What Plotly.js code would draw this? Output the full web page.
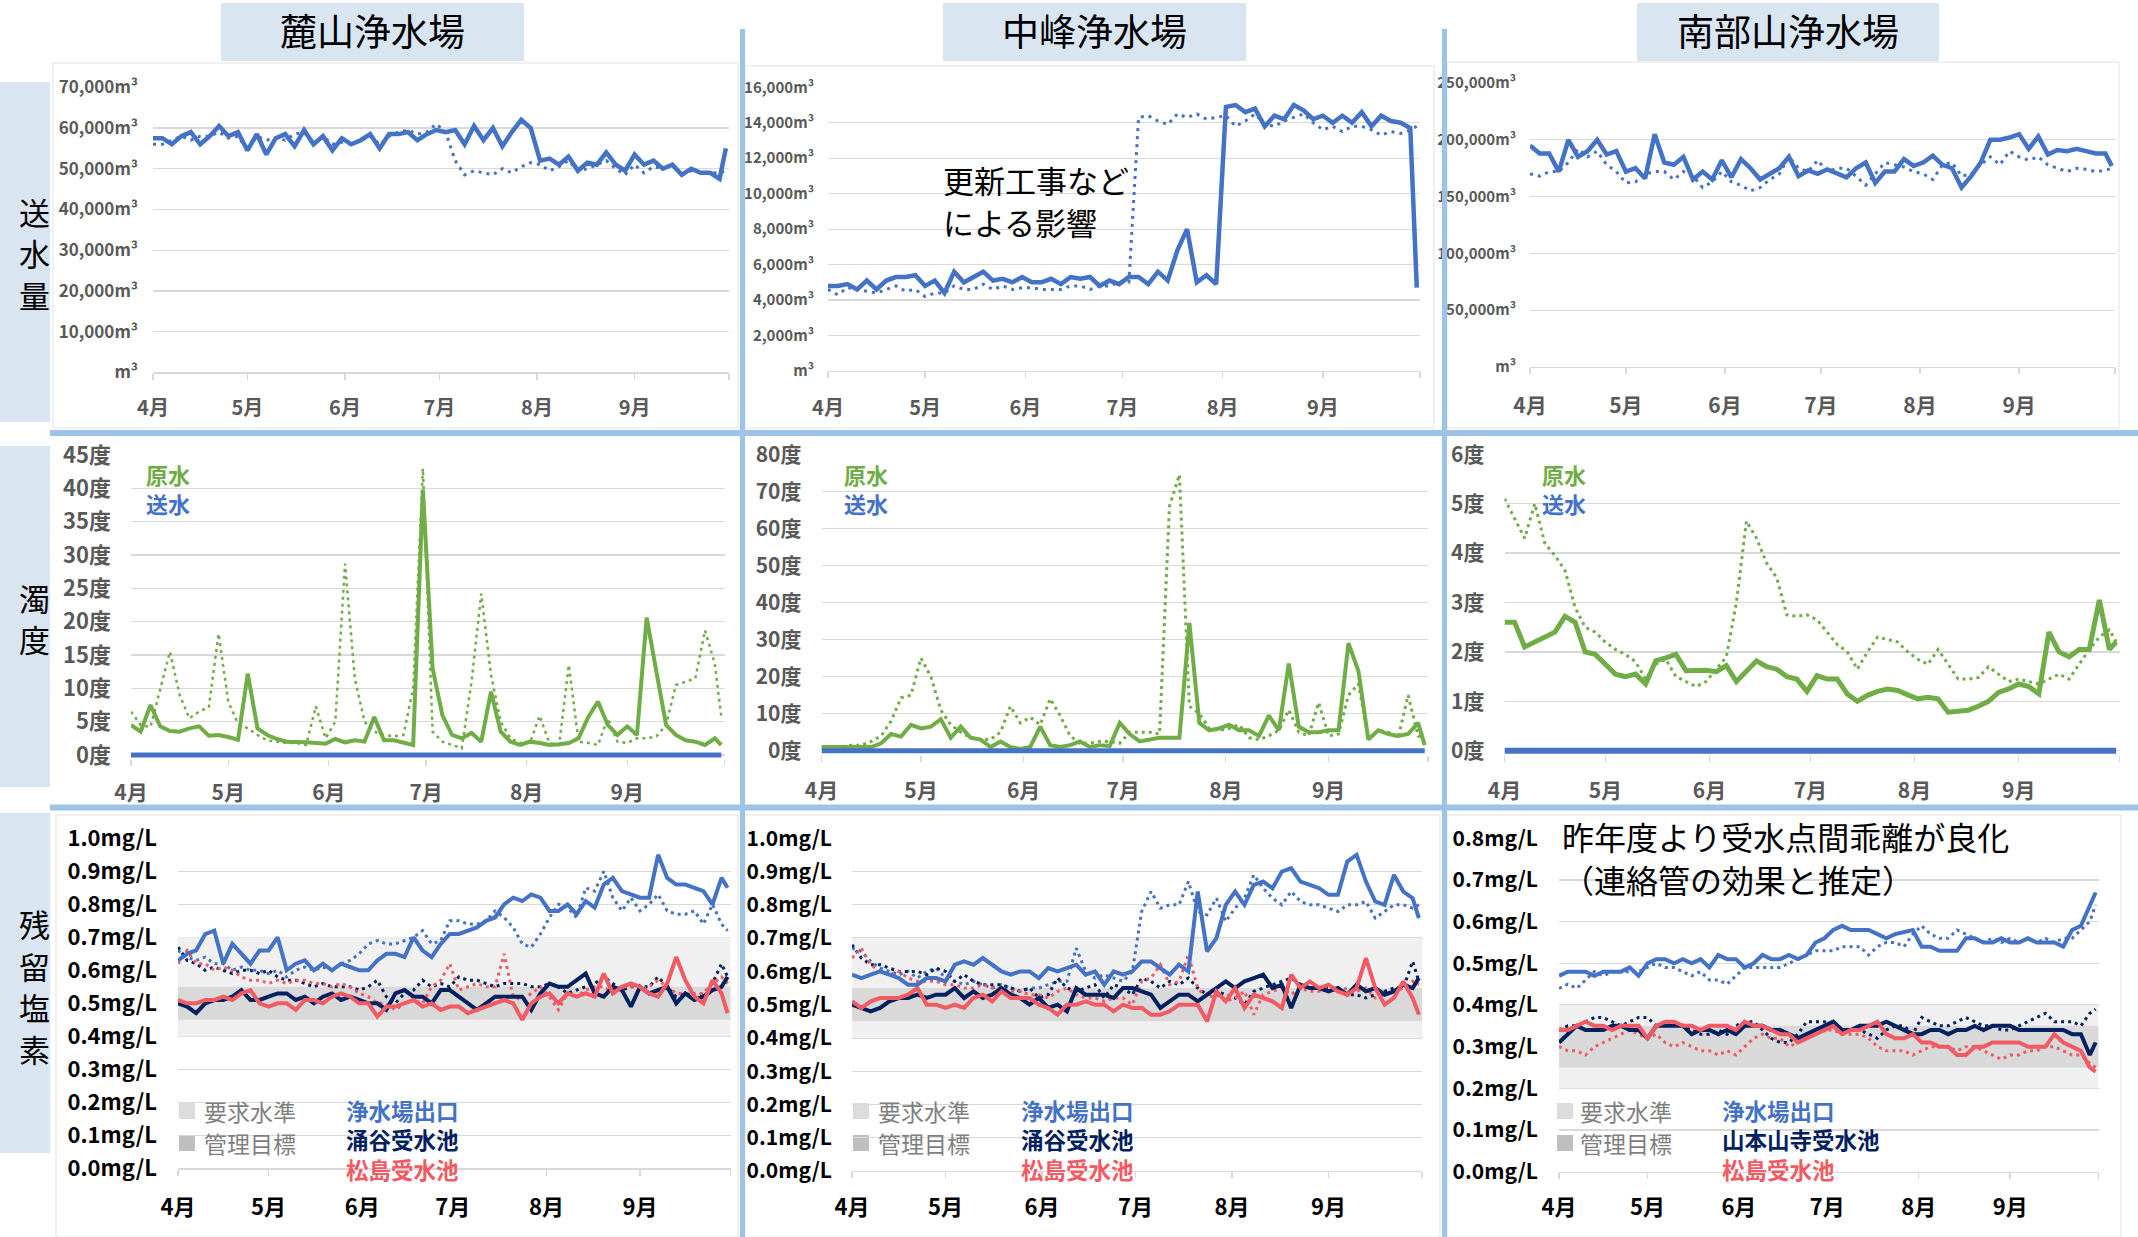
<!DOCTYPE html>
<html>
<head>
<meta charset="utf-8">
<script src="https://cdn.plot.ly/plotly-3.0.1.min.js"></script>
<style>
html,body{margin:0;padding:0;background:#ffffff;overflow:hidden;}
#chart{width:2138px;height:1237px;}
</style>
</head>
<body>
<div id="chart"></div>
<script>
// ================= DATA =================
const dates = [
"2023-04-01","2023-04-04","2023-04-07","2023-04-10","2023-04-13","2023-04-16","2023-04-19","2023-04-22","2023-04-25","2023-04-28",
"2023-05-01","2023-05-04","2023-05-07","2023-05-10","2023-05-13","2023-05-16","2023-05-19","2023-05-22","2023-05-25","2023-05-28",
"2023-05-31","2023-06-03","2023-06-06","2023-06-09","2023-06-12","2023-06-15","2023-06-18","2023-06-21","2023-06-24","2023-06-27",
"2023-06-30","2023-07-03","2023-07-06","2023-07-09","2023-07-12","2023-07-15","2023-07-18","2023-07-21","2023-07-24","2023-07-27",
"2023-07-30","2023-08-02","2023-08-05","2023-08-08","2023-08-11","2023-08-14","2023-08-17","2023-08-20","2023-08-23","2023-08-26",
"2023-08-29","2023-09-01","2023-09-04","2023-09-07","2023-09-10","2023-09-13","2023-09-16","2023-09-19","2023-09-22","2023-09-25",
"2023-09-28","2023-09-30"];
const monthTickVals = ["2023-04-01","2023-05-01","2023-06-01","2023-07-01","2023-08-01","2023-09-01","2023-10-01"];
const monthTickText = ["4月","5月","6月","7月","8月","9月",""];
const xRange = ["2023-04-01","2023-10-01"];

const plantNames = ["麓山浄水場","中峰浄水場","南部山浄水場"];
const rowNames = ["送水量","濁度","残留塩素"];

// ---- 送水量 (m³) : cur = 今年度(実線), prev = 昨年度(点線)
const flowFumotoCur = [
57500,57500,56000,58000,59000,56000,58000,60500,58000,59000,
54500,58500,53500,57500,58500,55500,59500,56000,58000,54500,
57500,56000,57000,58500,55000,58500,58500,59000,57000,58500,
59500,59000,59500,56000,60500,57000,60000,55500,59000,62000,
60000,52000,52500,51000,53000,49500,51500,51000,54000,51000,
49500,53500,51000,52000,50000,51000,48500,50000,49000,49000,
47500,55000];
const flowFumotoPrev = [
56000,56000,57000,58000,57000,58000,58000,59000,57500,58000,
54500,58000,57000,57500,57000,58500,59000,56000,58000,56000,
56500,56000,57000,58000,56000,58000,59000,59500,58500,59000,
61000,59000,52000,48500,49500,49000,48500,50000,49000,50500,
51500,51000,49500,50500,52000,49500,50000,51000,52000,50000,
48500,51000,49000,50500,50000,51000,48500,49500,49000,49000,
49000,49500];
const flowNakaCur = [
4800,4800,4900,4600,5100,4600,5100,5300,5300,5400,
4800,5100,4400,5600,5000,5300,5600,5100,5200,5000,
5300,5000,5000,5200,4900,5300,5200,5300,4800,5100,
4900,5300,5300,4900,5600,5100,6800,8000,5000,5400,
4900,14900,15000,14600,14800,13800,14400,14200,15000,14700,
14200,14400,14000,14400,14000,14600,13800,14400,14100,14000,
13700,4700];
const flowNakaPrev = [
4600,4300,4700,4600,4500,4400,4600,4800,4500,4600,
4200,4400,4400,4800,4600,4600,4900,4600,4800,4600,
4700,4700,4600,4600,4600,4800,4800,4600,4800,4800,
5000,5000,14300,14400,14100,13900,14500,14300,14500,14200,
14300,14400,13800,14100,14500,13900,13800,14100,14300,14500,
14000,13600,13800,13500,13800,13800,13600,13300,13500,13400,
13600,13800];
const flowNanbuCur = [
195000,188000,188000,172000,200000,185000,190000,200000,187000,190000,
172000,175000,166000,205000,180000,178000,185000,165000,172000,165000,
182000,167000,183000,175000,165000,170000,175000,185000,168000,173000,
170000,174000,170000,167000,175000,180000,162000,172000,172000,183000,
177000,180000,186000,178000,175000,158000,168000,180000,200000,200000,
202000,205000,192000,203000,187000,191000,190000,192000,190000,188000,
188000,177000];
const flowNanbuPrev = [
170000,168000,172000,172000,180000,192000,185000,190000,178000,172000,
162000,163000,170000,172000,172000,165000,172000,168000,158000,163000,
172000,163000,160000,155000,158000,165000,170000,185000,175000,172000,
182000,172000,175000,175000,168000,160000,170000,180000,178000,176000,
172000,170000,165000,178000,180000,168000,170000,178000,185000,178000,
190000,185000,182000,185000,178000,175000,172000,175000,174000,172000,
173000,175000];

// ---- 濁度 (度) : 原水 cur / prev, 送水
const turbFumotoCur = [
4.5,3.5,7.5,4.3,3.6,3.5,4.0,4.3,2.9,3.0,
2.7,2.3,12.2,4.0,3.0,2.4,2.0,2.0,1.9,1.8,
1.7,2.4,1.9,2.2,2.0,5.7,2.2,2.2,1.8,1.5,
39.8,13.0,6.0,3.0,2.5,3.3,2.0,9.5,3.5,2.0,
1.5,2.0,1.8,1.5,1.6,1.8,2.5,5.7,8.0,4.5,
3.0,4.3,3.0,20.6,12.5,4.5,3.0,2.2,2.0,1.5,
2.5,1.5];
const turbFumotoPrev = [
6.5,4.5,4.2,10.0,15.5,9.0,5.5,6.5,7.2,18.2,
8.0,4.7,4.0,3.0,2.2,2.0,1.8,1.8,1.5,7.3,
2.5,5.0,28.7,11.5,5.0,3.5,3.0,2.8,3.0,10.0,
43.0,3.5,2.0,1.5,1.0,11.0,24.2,12.0,5.0,2.5,
1.8,1.8,5.9,1.8,1.5,13.5,2.0,1.8,1.5,5.5,
2.0,1.8,2.5,2.5,2.8,4.5,10.5,11.0,11.5,18.7,
13.7,5.8];
const turbNakaCur = [
1.0,1.0,1.0,1.0,1.0,1.0,2.0,4.5,3.8,7.0,
6.0,6.5,8.5,3.5,6.5,3.5,3.0,1.0,2.5,1.0,
0.5,1.0,6.5,1.5,1.0,1.5,2.5,1.0,1.5,1.3,
7.5,4.5,2.5,3.0,3.5,3.5,3.5,34.5,7.5,5.5,
6.0,7.0,5.5,5.5,4.0,9.5,5.5,23.5,6.5,5.0,
5.0,5.5,5.5,29.0,21.5,3.0,5.5,4.5,4.0,4.5,
7.5,1.5];
const turbNakaPrev = [
1.0,1.0,1.0,1.5,1.5,2.5,4.0,8.0,14.3,15.0,
25.0,20.0,11.0,7.0,5.0,3.5,3.0,3.0,5.0,12.0,
7.5,9.0,7.0,14.0,9.5,4.0,2.0,2.0,2.5,2.5,
2.0,5.0,5.0,5.0,4.5,66.0,74.5,12.0,10.0,6.0,
5.5,6.0,7.0,3.5,3.0,4.0,5.5,11.0,5.0,4.0,
13.0,4.0,4.5,15.0,18.0,3.5,5.5,5.0,3.5,15.0,
4.0,3.5];
const turbNanbuCur = [
2.6,2.6,2.1,2.2,2.3,2.4,2.72,2.6,2.0,1.95,
1.75,1.55,1.5,1.55,1.35,1.82,1.88,1.95,1.62,1.62,
1.63,1.6,1.72,1.4,1.6,1.82,1.7,1.65,1.5,1.45,
1.2,1.52,1.45,1.45,1.15,1.0,1.12,1.2,1.25,1.22,
1.13,1.05,1.08,1.05,0.78,0.8,0.82,0.9,1.0,1.18,
1.25,1.35,1.3,1.15,2.4,2.0,1.9,2.05,2.05,3.05,
2.05,2.2];
const turbNanbuPrev = [
5.1,4.7,4.3,5.0,4.2,3.95,3.65,2.9,2.5,2.4,
2.2,2.05,1.95,1.8,1.45,1.75,1.85,1.5,1.4,1.3,
1.4,1.65,1.9,3.0,4.65,4.3,3.8,3.5,2.75,2.72,
2.75,2.65,2.4,2.15,2.0,1.65,2.0,2.3,2.25,2.2,
2.0,1.85,1.75,2.05,1.75,1.45,1.45,1.48,1.7,1.55,
1.4,1.45,1.4,1.35,1.45,1.55,1.45,1.75,2.05,2.3,
2.45,2.2];
const sentTurbDates = ["2023-04-01","2023-09-30"];
const sentTurbFumoto = [0,0];
const sentTurbNaka = [0,0];
const sentTurbNanbu = [0,0];

// ---- 残留塩素 (mg/L) : 浄水場出口 / 受水池A / 松島受水池, cur & prev
const clFumotoOutCur = [
0.63,0.65,0.66,0.71,0.72,0.62,0.68,0.65,0.62,0.66,
0.66,0.70,0.60,0.62,0.63,0.60,0.62,0.60,0.62,0.61,
0.60,0.60,0.63,0.65,0.65,0.64,0.70,0.66,0.64,0.68,
0.71,0.71,0.72,0.73,0.75,0.76,0.80,0.82,0.81,0.83,
0.82,0.78,0.78,0.80,0.77,0.81,0.79,0.86,0.88,0.84,
0.83,0.82,0.82,0.95,0.88,0.86,0.86,0.85,0.84,0.80,
0.88,0.85];
const clFumotoOutPrev = [
0.66,0.64,0.63,0.64,0.62,0.62,0.60,0.61,0.60,0.60,
0.59,0.60,0.58,0.60,0.61,0.60,0.61,0.60,0.62,0.63,
0.65,0.68,0.69,0.68,0.68,0.69,0.70,0.72,0.68,0.69,
0.75,0.75,0.74,0.74,0.75,0.78,0.76,0.73,0.68,0.67,
0.71,0.76,0.80,0.79,0.76,0.85,0.84,0.90,0.82,0.78,
0.82,0.78,0.80,0.83,0.78,0.77,0.77,0.78,0.74,0.80,
0.74,0.72];
const clFumotoWakuyaCur = [
0.50,0.49,0.47,0.50,0.51,0.51,0.52,0.54,0.51,0.51,
0.52,0.53,0.53,0.51,0.52,0.50,0.52,0.53,0.51,0.52,
0.51,0.50,0.50,0.48,0.53,0.54,0.52,0.52,0.50,0.54,
0.54,0.52,0.50,0.48,0.50,0.52,0.52,0.52,0.52,0.48,
0.53,0.56,0.55,0.55,0.57,0.59,0.53,0.52,0.55,0.54,
0.49,0.55,0.53,0.54,0.55,0.50,0.53,0.51,0.52,0.54,
0.55,0.58];
const clFumotoWakuyaPrev = [
0.67,0.63,0.62,0.60,0.61,0.60,0.59,0.60,0.60,0.59,
0.60,0.58,0.57,0.57,0.56,0.55,0.56,0.55,0.55,0.55,
0.54,0.55,0.57,0.52,0.50,0.53,0.54,0.57,0.55,0.56,
0.55,0.58,0.57,0.57,0.56,0.55,0.56,0.56,0.56,0.55,
0.55,0.56,0.55,0.53,0.54,0.55,0.56,0.58,0.56,0.54,
0.55,0.55,0.55,0.58,0.55,0.52,0.53,0.52,0.53,0.56,
0.62,0.58];
const clFumotoMatsuCur = [
0.51,0.50,0.50,0.51,0.51,0.52,0.51,0.53,0.54,0.50,
0.49,0.50,0.50,0.48,0.51,0.51,0.50,0.52,0.53,0.52,
0.50,0.50,0.46,0.49,0.49,0.50,0.51,0.49,0.50,0.48,
0.49,0.49,0.47,0.48,0.49,0.50,0.51,0.50,0.45,0.50,
0.52,0.53,0.50,0.53,0.52,0.53,0.52,0.59,0.53,0.55,
0.56,0.55,0.53,0.52,0.56,0.64,0.57,0.52,0.50,0.57,
0.53,0.47];
const clFumotoMatsuPrev = [
0.62,0.66,0.62,0.62,0.60,0.61,0.60,0.58,0.57,0.57,
0.56,0.57,0.56,0.57,0.57,0.56,0.56,0.55,0.56,0.55,
0.53,0.52,0.50,0.50,0.48,0.50,0.51,0.50,0.55,0.57,
0.62,0.54,0.55,0.56,0.55,0.55,0.65,0.52,0.51,0.53,
0.55,0.52,0.48,0.53,0.52,0.54,0.55,0.55,0.53,0.55,
0.55,0.54,0.55,0.57,0.55,0.53,0.53,0.53,0.53,0.56,
0.58,0.56];

const clNakaOutCur = [
0.59,0.58,0.59,0.60,0.59,0.58,0.56,0.56,0.58,0.58,
0.57,0.62,0.63,0.62,0.64,0.62,0.60,0.59,0.60,0.60,
0.58,0.61,0.60,0.61,0.62,0.59,0.60,0.56,0.60,0.59,
0.60,0.63,0.63,0.61,0.59,0.62,0.60,0.84,0.66,0.70,
0.80,0.84,0.80,0.86,0.87,0.85,0.90,0.91,0.87,0.86,
0.85,0.83,0.83,0.93,0.95,0.87,0.81,0.80,0.89,0.84,
0.82,0.76];
const clNakaOutPrev = [
0.67,0.66,0.63,0.61,0.60,0.59,0.60,0.58,0.60,0.61,
0.58,0.57,0.56,0.57,0.56,0.55,0.56,0.55,0.54,0.55,
0.55,0.56,0.57,0.57,0.67,0.60,0.58,0.59,0.58,0.57,
0.60,0.78,0.84,0.79,0.80,0.80,0.87,0.78,0.77,0.82,
0.75,0.79,0.82,0.89,0.85,0.82,0.80,0.84,0.81,0.80,
0.80,0.79,0.78,0.80,0.80,0.81,0.76,0.78,0.80,0.80,
0.79,0.80];
const clNakaWakuyaCur = [
0.50,0.49,0.48,0.49,0.51,0.52,0.52,0.53,0.52,0.53,
0.53,0.55,0.52,0.54,0.52,0.53,0.55,0.53,0.52,0.50,
0.52,0.49,0.50,0.48,0.55,0.53,0.53,0.53,0.52,0.55,
0.55,0.54,0.53,0.49,0.51,0.53,0.53,0.51,0.53,0.55,
0.57,0.55,0.57,0.58,0.59,0.55,0.56,0.49,0.56,0.55,
0.55,0.54,0.55,0.53,0.56,0.54,0.55,0.53,0.54,0.56,
0.55,0.58];
const clNakaWakuyaPrev = [
0.68,0.64,0.62,0.62,0.61,0.60,0.60,0.60,0.59,0.61,
0.60,0.57,0.59,0.57,0.56,0.56,0.56,0.55,0.54,0.55,
0.52,0.53,0.58,0.55,0.54,0.55,0.56,0.52,0.56,0.55,
0.53,0.58,0.57,0.55,0.57,0.56,0.58,0.55,0.53,0.54,
0.53,0.52,0.50,0.54,0.55,0.56,0.57,0.58,0.56,0.55,
0.55,0.55,0.55,0.53,0.53,0.52,0.53,0.54,0.55,0.55,
0.63,0.57];
const clNakaMatsuCur = [
0.51,0.49,0.51,0.52,0.52,0.52,0.53,0.55,0.50,0.50,
0.49,0.50,0.49,0.52,0.53,0.51,0.54,0.52,0.52,0.52,
0.50,0.49,0.47,0.50,0.50,0.51,0.50,0.50,0.48,0.50,
0.49,0.49,0.47,0.47,0.48,0.50,0.50,0.50,0.45,0.54,
0.51,0.55,0.49,0.53,0.52,0.51,0.49,0.59,0.55,0.57,
0.55,0.56,0.54,0.53,0.55,0.64,0.55,0.50,0.52,0.57,
0.52,0.47];
const clNakaMatsuPrev = [
0.64,0.67,0.62,0.60,0.59,0.60,0.58,0.57,0.57,0.57,
0.56,0.56,0.55,0.55,0.56,0.55,0.55,0.54,0.54,0.53,
0.53,0.52,0.54,0.55,0.53,0.52,0.52,0.51,0.52,0.52,
0.50,0.57,0.58,0.62,0.56,0.57,0.65,0.55,0.52,0.53,
0.51,0.52,0.54,0.47,0.53,0.54,0.55,0.53,0.55,0.54,
0.54,0.55,0.54,0.55,0.54,0.55,0.52,0.53,0.54,0.55,
0.57,0.56];

const clNanbuOutCur = [
0.47,0.48,0.48,0.48,0.47,0.48,0.48,0.48,0.49,0.47,
0.50,0.51,0.51,0.50,0.51,0.50,0.51,0.49,0.52,0.51,
0.51,0.49,0.50,0.52,0.51,0.51,0.52,0.51,0.52,0.55,
0.56,0.58,0.59,0.58,0.58,0.58,0.57,0.56,0.57,0.575,
0.58,0.54,0.54,0.53,0.53,0.53,0.56,0.56,0.55,0.55,
0.56,0.55,0.55,0.56,0.55,0.55,0.55,0.54,0.58,0.59,
0.64,0.67];
const clNanbuOutPrev = [
0.44,0.45,0.44,0.46,0.48,0.47,0.48,0.48,0.48,0.48,
0.49,0.50,0.49,0.49,0.48,0.47,0.48,0.46,0.46,0.45,
0.47,0.49,0.49,0.49,0.49,0.49,0.50,0.51,0.52,0.53,
0.53,0.53,0.54,0.54,0.54,0.52,0.54,0.55,0.55,0.54,
0.57,0.59,0.57,0.56,0.56,0.58,0.57,0.56,0.55,0.56,
0.55,0.56,0.55,0.56,0.55,0.56,0.55,0.56,0.56,0.58,
0.60,0.64];
const clNanbuYamaCur = [
0.31,0.33,0.35,0.34,0.34,0.34,0.35,0.35,0.34,0.34,
0.32,0.35,0.35,0.35,0.35,0.33,0.34,0.34,0.33,0.34,
0.33,0.35,0.35,0.35,0.34,0.34,0.33,0.32,0.33,0.34,
0.35,0.36,0.34,0.34,0.35,0.35,0.35,0.36,0.35,0.34,
0.33,0.33,0.34,0.34,0.33,0.34,0.34,0.35,0.34,0.35,
0.35,0.35,0.34,0.34,0.34,0.34,0.34,0.34,0.33,0.33,
0.28,0.31];
const clNanbuYamaPrev = [
0.34,0.35,0.35,0.36,0.37,0.37,0.36,0.35,0.36,0.37,
0.37,0.35,0.36,0.36,0.35,0.34,0.33,0.33,0.34,0.33,
0.35,0.36,0.36,0.34,0.32,0.31,0.31,0.33,0.36,0.36,
0.36,0.35,0.34,0.34,0.34,0.33,0.32,0.34,0.35,0.35,
0.33,0.37,0.36,0.35,0.35,0.36,0.37,0.36,0.35,0.35,
0.34,0.34,0.35,0.36,0.37,0.38,0.36,0.36,0.36,0.35,
0.38,0.39];
const clNanbuMatsuCur = [
0.34,0.34,0.35,0.36,0.35,0.35,0.34,0.35,0.35,0.35,
0.32,0.35,0.36,0.36,0.35,0.35,0.34,0.35,0.35,0.35,
0.34,0.36,0.35,0.35,0.34,0.33,0.33,0.31,0.32,0.33,
0.34,0.35,0.33,0.34,0.34,0.35,0.36,0.33,0.32,0.32,
0.33,0.31,0.31,0.30,0.30,0.28,0.28,0.30,0.30,0.31,
0.31,0.31,0.31,0.30,0.30,0.30,0.33,0.31,0.30,0.29,
0.25,0.24];
const clNanbuMatsuPrev = [
0.30,0.29,0.29,0.28,0.30,0.31,0.32,0.33,0.34,0.33,
0.32,0.33,0.31,0.30,0.31,0.30,0.29,0.29,0.28,0.29,
0.28,0.30,0.32,0.33,0.32,0.32,0.30,0.31,0.33,0.34,
0.34,0.34,0.33,0.33,0.33,0.32,0.30,0.29,0.29,0.29,
0.28,0.29,0.30,0.30,0.30,0.29,0.30,0.30,0.29,0.28,
0.27,0.28,0.28,0.29,0.29,0.30,0.30,0.29,0.28,0.28,
0.26,0.25];

// 要求水準 / 管理目標 bands (mg/L)
const bandDates = ["2023-04-01","2023-10-01","2023-10-01","2023-04-01"];
const reqBandFumoto = [0.40,0.40,0.70,0.70];
const mgmtBandFumoto = [0.45,0.45,0.55,0.55];
const reqBandNaka = [0.40,0.40,0.70,0.70];
const mgmtBandNaka = [0.45,0.45,0.55,0.55];
const reqBandNanbu = [0.20,0.20,0.40,0.40];
const mgmtBandNanbu = [0.25,0.25,0.35,0.35];

// tick labels
const flowTicksFumoto = [0,10000,20000,30000,40000,50000,60000,70000];
const flowLabelsFumoto = ["m³","10,000m³","20,000m³","30,000m³","40,000m³","50,000m³","60,000m³","70,000m³"];
const flowTicksNaka = [0,2000,4000,6000,8000,10000,12000,14000,16000];
const flowLabelsNaka = ["m³","2,000m³","4,000m³","6,000m³","8,000m³","10,000m³","12,000m³","14,000m³","16,000m³"];
const flowTicksNanbu = [0,50000,100000,150000,200000,250000];
const flowLabelsNanbu = ["m³","50,000m³","100,000m³","150,000m³","200,000m³","250,000m³"];
const turbTicksFumoto = [0,5,10,15,20,25,30,35,40,45];
const turbLabelsFumoto = ["0度","5度","10度","15度","20度","25度","30度","35度","40度","45度"];
const turbTicksNaka = [0,10,20,30,40,50,60,70,80];
const turbLabelsNaka = ["0度","10度","20度","30度","40度","50度","60度","70度","80度"];
const turbTicksNanbu = [0,1,2,3,4,5,6];
const turbLabelsNanbu = ["0度","1度","2度","3度","4度","5度","6度"];
const clTicks10 = [0,0.1,0.2,0.3,0.4,0.5,0.6,0.7,0.8,0.9,1.0];
const clLabels10 = ["0.0mg/L","0.1mg/L","0.2mg/L","0.3mg/L","0.4mg/L","0.5mg/L","0.6mg/L","0.7mg/L","0.8mg/L","0.9mg/L","1.0mg/L"];
const clTicks08 = [0,0.1,0.2,0.3,0.4,0.5,0.6,0.7,0.8];
const clLabels08 = ["0.0mg/L","0.1mg/L","0.2mg/L","0.3mg/L","0.4mg/L","0.5mg/L","0.6mg/L","0.7mg/L","0.8mg/L"];

const legendBand = ["要求水準","管理目標"];
const legendSeriesFumoto = ["浄水場出口","涌谷受水池","松島受水池"];
const legendSeriesNaka = ["浄水場出口","涌谷受水池","松島受水池"];
const legendSeriesNanbu = ["浄水場出口","山本山寺受水池","松島受水池"];
const turbLegend = ["原水","送水"];
const noteNaka = ["更新工事など","による影響"];
const noteNanbu = ["昨年度より受水点間乖離が良化","（連絡管の効果と推定）"];

// ================= STYLE / LAYOUT =================
const W = 2138, H = 1237;
const FONT = '"Noto Sans CJK JP", "Noto Sans", sans-serif';
const GRID = '#d9d9d9';
const BLUE = '#4472c4', GREEN = '#70ad47', NAVY = '#002060', RED = '#f25b63';
const SEP = '#9dc3e6', BOXFILL = '#dae5f2';

const geo = [
 {x0:153, x1:729, yt:87.3, yb:372.3, pad:0, ymax:70000, tv:flowTicksFumoto, tt:flowLabelsFumoto, yfs:17, xfs:20, col:'#595959', yso:14, xso:11},
 {x0:828, x1:1420, yt:87.3, yb:371, pad:0, ymax:16000, tv:flowTicksNaka, tt:flowLabelsNaka, yfs:15, xfs:20, col:'#595959', yso:13, xso:13},
 {x0:1530, x1:2115, yt:83, yb:367, pad:0, ymax:250000, tv:flowTicksNanbu, tt:flowLabelsNanbu, yfs:15, xfs:21, col:'#595959', yso:13, xso:13},
 {x0:131, x1:724.5, yt:455, yb:755, pad:4, ymax:45, tv:turbTicksFumoto, tt:turbLabelsFumoto, yfs:22, xfs:21, col:'#595959', yso:19, xso:9},
 {x0:821.5, x1:1428, yt:454.3, yb:750.7, pad:4, ymax:80, tv:turbTicksNaka, tt:turbLabelsNaka, yfs:21, xfs:21, col:'#595959', yso:19, xso:11},
 {x0:1504.5, x1:2119.5, yt:454.3, yb:750.7, pad:4, ymax:6, tv:turbTicksNanbu, tt:turbLabelsNanbu, yfs:21, xfs:21, col:'#595959', yso:19, xso:11},
 {x0:178, x1:730.6, yt:838.3, yb:1168.3, pad:0, ymax:1.0, tv:clTicks10, tt:clLabels10, yfs:22, xfs:22, col:'#000000', yso:20, xso:13},
 {x0:852, x1:1422, yt:838.3, yb:1171, pad:0, ymax:1.0, tv:clTicks10, tt:clLabels10, yfs:21, xfs:22, col:'#000000', yso:19, xso:10},
 {x0:1559, x1:2098.6, yt:838.3, yb:1171.7, pad:0, ymax:0.8, tv:clTicks08, tt:clLabels08, yfs:21, xfs:22, col:'#000000', yso:20, xso:10}
];

const layout = {
  width: W, height: H, margin: {l:0, r:0, t:0, b:0},
  paper_bgcolor: '#ffffff', plot_bgcolor: 'rgba(0,0,0,0)',
  showlegend: false, font: {family: FONT},
  shapes: [], annotations: []
};

geo.forEach((g, i) => {
  const n = i + 1, s = n === 1 ? '' : String(n);
  const padUnits = g.pad * g.ymax / (g.yb - g.yt);
  layout['xaxis' + s] = {
    domain: [g.x0 / W, g.x1 / W], anchor: 'y' + s, type: 'date', range: xRange,
    tickmode: 'array', tickvals: monthTickVals, ticktext: monthTickText,
    ticks: 'outside', ticklen: 6, tickwidth: 1.3, tickcolor: GRID,
    showgrid: false, zeroline: false, showline: g.pad === 0, linecolor: GRID, linewidth: 1.3,
    tickfont: {family: FONT, size: g.xfs, color: g.col, weight: 'bold'},
    ticklabelstandoff: g.xso, fixedrange: true
  };
  layout['yaxis' + s] = {
    domain: [1 - (g.yb + g.pad) / H, 1 - g.yt / H], anchor: 'x' + s,
    range: [-padUnits, g.ymax], tickmode: 'array', tickvals: g.tv, ticktext: g.tt,
    showgrid: true, gridcolor: GRID, gridwidth: 1.3, zeroline: false, showline: false, ticks: '',
    tickfont: {family: FONT, size: g.yfs, color: g.col, weight: 'bold'},
    ticklabelstandoff: g.yso, fixedrange: true
  };
});

const traces = [];
function ln(n, x, y, color, width, dash) {
  const s = n === 1 ? '' : String(n);
  traces.push({type:'scatter', mode:'lines', x:x, y:y, xaxis:'x'+s, yaxis:'y'+s,
    line:{color:color, width:width, dash:dash || 'solid'}, hoverinfo:'skip', showlegend:false});
}
function band(n, y, color) {
  const s = n === 1 ? '' : String(n);
  traces.push({type:'scatter', mode:'lines', x:bandDates, y:y, xaxis:'x'+s, yaxis:'y'+s,
    fill:'toself', fillcolor:color, line:{width:0, color:color}, hoverinfo:'skip', showlegend:false});
}
const DOT1 = '3px,5px', DOT2 = '3px,4px', DOT3 = '3px,4px';

// row 1
ln(1, dates, flowFumotoPrev, BLUE, 3, DOT1); ln(1, dates, flowFumotoCur, BLUE, 4.5);
ln(2, dates, flowNakaPrev, BLUE, 3, DOT1);   ln(2, dates, flowNakaCur, BLUE, 4.5);
ln(3, dates, flowNanbuPrev, BLUE, 3, DOT1);  ln(3, dates, flowNanbuCur, BLUE, 4.5);
// row 2
ln(4, dates, turbFumotoPrev, GREEN, 2.5, DOT2); ln(4, dates, turbFumotoCur, GREEN, 4); ln(4, sentTurbDates, sentTurbFumoto, BLUE, 5);
ln(5, dates, turbNakaPrev, GREEN, 3, DOT2);     ln(5, dates, turbNakaCur, GREEN, 4);   ln(5, sentTurbDates, sentTurbNaka, BLUE, 5);
ln(6, dates, turbNanbuPrev, GREEN, 3, DOT2);    ln(6, dates, turbNanbuCur, GREEN, 5);  ln(6, sentTurbDates, sentTurbNanbu, BLUE, 6);
// row 3
const clSets = [
  [7, reqBandFumoto, mgmtBandFumoto, clFumotoOutPrev, clFumotoWakuyaPrev, clFumotoMatsuPrev, clFumotoWakuyaCur, clFumotoMatsuCur, clFumotoOutCur],
  [8, reqBandNaka, mgmtBandNaka, clNakaOutPrev, clNakaWakuyaPrev, clNakaMatsuPrev, clNakaWakuyaCur, clNakaMatsuCur, clNakaOutCur],
  [9, reqBandNanbu, mgmtBandNanbu, clNanbuOutPrev, clNanbuYamaPrev, clNanbuMatsuPrev, clNanbuYamaCur, clNanbuMatsuCur, clNanbuOutCur]
];
clSets.forEach(c => {
  band(c[0], c[1], '#f0f0f0');
  band(c[0], c[2], '#d9d9d9');
  ln(c[0], dates, c[3], BLUE, 3, DOT3);
  ln(c[0], dates, c[4], NAVY, 3, DOT3);
  ln(c[0], dates, c[5], RED, 3, DOT3);
  ln(c[0], dates, c[6], NAVY, 4);
  ln(c[0], dates, c[7], RED, 4);
  ln(c[0], dates, c[8], BLUE, 4);
});

// ---------- decorations ----------
function rect(x0, y0, x1, y1, fill, lineColor, lw, layer) {
  layout.shapes.push({type:'rect', xref:'paper', yref:'paper', x0:x0/W, x1:x1/W, y0:1-y1/H, y1:1-y0/H,
    fillcolor: fill, line:{color: lineColor || 'rgba(0,0,0,0)', width: lw || 0}, layer: layer || 'below'});
}
function seg(x0, y0, x1, y1, color, w) {
  layout.shapes.push({type:'line', xref:'paper', yref:'paper', x0:x0/W, x1:x1/W, y0:1-y0/H, y1:1-y1/H,
    line:{color:color, width:w}, layer:'above'});
}
function ann(text, x, y, size, color, opts) {
  layout.annotations.push(Object.assign({text:text, x:x/W, y:1-y/H, xref:'paper', yref:'paper', showarrow:false,
    xanchor:'left', yanchor:'middle', align:'left', font:{family:FONT, size:size, color:color}}, opts || {}));
}
function span(t, c) { return '<span style="color:' + c + '">' + t + '</span>'; }

// chart-area borders
rect(53, 63, 738, 428, 'rgba(0,0,0,0)', '#e3e3e3', 1);
rect(745, 66, 1434, 428, 'rgba(0,0,0,0)', '#e3e3e3', 1);
rect(1447, 62, 2119, 428, 'rgba(0,0,0,0)', '#e3e3e3', 1);
rect(56, 815, 738, 1237, 'rgba(0,0,0,0)', '#e3e3e3', 1);
rect(745, 815, 1440, 1237, 'rgba(0,0,0,0)', '#e3e3e3', 1);
rect(1447, 815, 2121, 1237, 'rgba(0,0,0,0)', '#e3e3e3', 1);

// header boxes
const headerBoxes = [[221, 524], [943, 1246], [1637, 1939]];
headerBoxes.forEach((b, i) => {
  rect(b[0], 3, b[1], 61, BOXFILL);
  ann(plantNames[i], (b[0] + b[1]) / 2, 30, 37, '#000000', {xanchor:'center', align:'center'});
});
// row label boxes (vertical text: one character per line)
const rowBoxes = [[82, 422, 252.5], [446, 787, 618], [813, 1153, 986]];
const ROW_FS = 31, ROW_STEP = 41.5;
rowBoxes.forEach((b, i) => {
  rect(0, b[0], 50, b[1], BOXFILL);
  const chars = Array.from(rowNames[i]);
  const y0 = b[2] - (chars.length - 1) * ROW_STEP / 2;
  chars.forEach((ch, k) => ann(ch, 34, y0 + k * ROW_STEP, ROW_FS, '#000000', {xanchor:'center', align:'center'}));
});
// separators
seg(50, 433, W, 433, SEP, 6);
seg(50, 807.5, W, 807.5, SEP, 6);
seg(742.5, 29, 742.5, H, SEP, 5);
seg(1444.5, 29, 1444.5, H, SEP, 5);

// turbidity legends
[144, 842, 1540].forEach(x => {
  ann(span(turbLegend[0], GREEN) + '<br>' + span(turbLegend[1], BLUE), x, 489, 22, GREEN,
      {font:{family:FONT, size:22, color:GREEN, weight:'bold'}});
});

// chlorine legends
const clLeg = [
  {sq:179, tx:202, sx:344, names:legendSeriesFumoto},
  {sq:853, tx:876, sx:1018.5, names:legendSeriesNaka},
  {sq:1557, tx:1578, sx:1720, names:legendSeriesNanbu}
];
clLeg.forEach(L => {
  rect(L.sq, 1103, L.sq + 16, 1119, '#dcdcdc');
  rect(L.sq, 1135, L.sq + 16, 1151, '#bfbfbf');
  ann(legendBand[0], L.tx, 1111, 23, '#7f7f7f');
  ann(legendBand[1], L.tx, 1143, 23, '#7f7f7f');
  const cols = [BLUE, NAVY, RED];
  const txt = L.names.map((nm, k) => span(nm, cols[k])).join('<br>');
  ann(txt, L.sx, 1139, 22.5, BLUE, {font:{family:FONT, size:22.5, color:BLUE, weight:'bold'}});
});

// notes (one annotation per line)
ann(noteNaka[0], 941, 179, 31, '#000000');
ann(noteNaka[1], 941, 221, 31, '#000000');
ann(noteNanbu[0], 1560, 835.5, 32, '#000000');
ann(noteNanbu[1], 1560, 878.5, 32, '#000000');

Plotly.newPlot('chart', traces, layout, {displayModeBar:false, staticPlot:true});
</script>
</body>
</html>
